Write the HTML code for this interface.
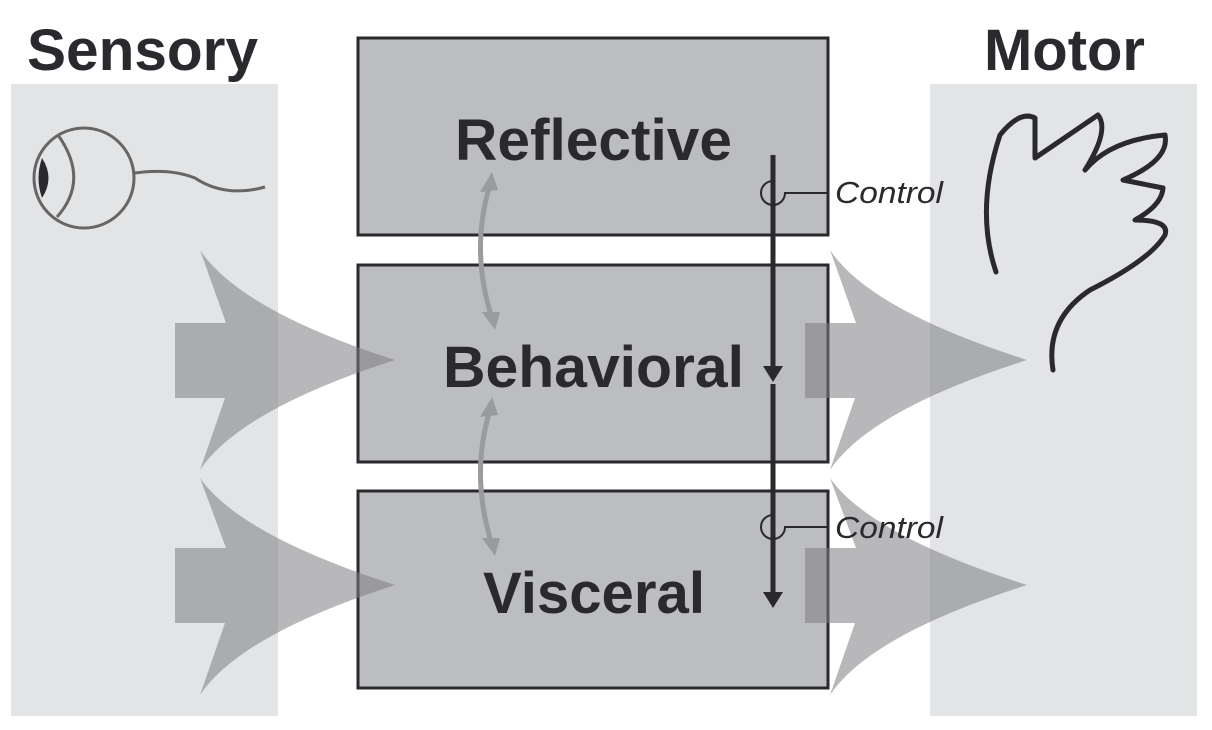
<!DOCTYPE html>
<html><head><style>body{margin:0;background:#fff}svg{display:block}</style></head>
<body>
<svg width="1212" height="730" viewBox="0 0 1212 730" xmlns="http://www.w3.org/2000/svg" font-family="Liberation Sans, sans-serif">
<rect x="11" y="84" width="267" height="632" fill="#e3e4e5"/>
<rect x="930" y="84" width="267" height="632" fill="#e3e4e5"/>
<text x="27" y="70" font-size="58" font-weight="bold" fill="#2a2a2e" textLength="231" lengthAdjust="spacingAndGlyphs">Sensory</text>
<text x="984" y="70" font-size="58" font-weight="bold" fill="#2a2a2e" textLength="161" lengthAdjust="spacingAndGlyphs">Motor</text>
<!-- eye -->
<g fill="none" stroke="#666" stroke-width="3">
<circle cx="84" cy="178" r="50"/>
<path d="M58 135 Q90 180 57 217"/>
<path d="M135 173 Q170 168 195 178 Q225 198 265 187"/>
</g>
<path d="M42 158 Q55 178 42 198 Q35 178 42 158z" fill="#2a2a2e"/>
<!-- hand -->
<path d="M996 272 Q975 210 1000 135 Q1020 110 1035 118 L1035 158 L1098 115 Q1110 130 1085 170 Q1110 140 1165 135 Q1170 160 1123 180 L1163 188 Q1162 205 1135 220 Q1170 220 1165 235 Q1150 260 1090 290 Q1045 320 1053 370" fill="none" stroke="#2a2a2e" stroke-width="5" stroke-linecap="round" stroke-linejoin="round"/>
<!-- boxes -->
<g fill="#bcbdbf" stroke="#2a2a2e" stroke-width="3">
<rect x="358" y="38" width="470" height="197"/>
<rect x="358" y="265" width="470" height="197"/>
<rect x="358" y="491" width="470" height="197"/>
</g>
<g font-size="58" font-weight="bold" fill="#2a2a2e">
<text x="455" y="160" textLength="277" lengthAdjust="spacingAndGlyphs">Reflective</text>
<text x="443" y="387" textLength="301" lengthAdjust="spacingAndGlyphs">Behavioral</text>
<text x="483" y="613" textLength="222" lengthAdjust="spacingAndGlyphs">Visceral</text>
</g>
<!-- big arrows -->
<g fill="#7d7e82" fill-opacity="0.55">
<path d="M175 323 L226 323 L200 250 Q240 310 395 360 Q240 410 200 470 L225 398 L175 398z"/>
<path d="M175 548 L226 548 L200 478 Q240 535 395 585 Q240 635 200 695 L225 623 L175 623z"/>
<path d="M805 323 L856 323 L830 250 Q870 310 1027 360 Q870 410 830 470 L855 398 L805 398z"/>
<path d="M805 548 L856 548 L830 478 Q870 535 1027 585 Q870 635 830 695 L855 623 L805 623z"/>
</g>
<!-- curved arrows -->
<g fill="none" stroke="#9a9b9e" stroke-width="5">
<path d="M490 185 Q470 250 492 318"/>
<path d="M490 410 Q470 475 492 545"/>
</g>
<g fill="#9a9b9e">
<path d="M480 192 L492 172 L498 190z"/>
<path d="M482 312 L500 312 L495 330z"/>
<path d="M480 417 L492 397 L498 415z"/>
<path d="M482 538 L500 538 L495 556z"/>
</g>
<!-- control line -->
<g stroke="#2a2a2e" stroke-width="5">
<line x1="773" y1="155" x2="773" y2="370"/>
<line x1="773" y1="384" x2="773" y2="596"/>
</g>
<path d="M763 366 L783 366 L773 382z M763 592 L783 592 L773 608z" fill="#2a2a2e"/>
<g fill="none" stroke="#2a2a2e" stroke-width="2">
<path d="M773 205 A12 12 0 0 1 773 181"/><path d="M773 205 A12 12 0 0 0 785 193 L828 193" />
<path d="M773 539 A12 12 0 0 1 773 515"/><path d="M773 539 A12 12 0 0 0 785 527 L828 527"/>
</g>
<g font-size="31" font-style="italic" fill="#2a2a2e">
<text x="835" y="203" textLength="108" lengthAdjust="spacingAndGlyphs">Control</text>
<text x="835" y="538" textLength="108" lengthAdjust="spacingAndGlyphs">Control</text>
</g>
</svg>
</body></html>
